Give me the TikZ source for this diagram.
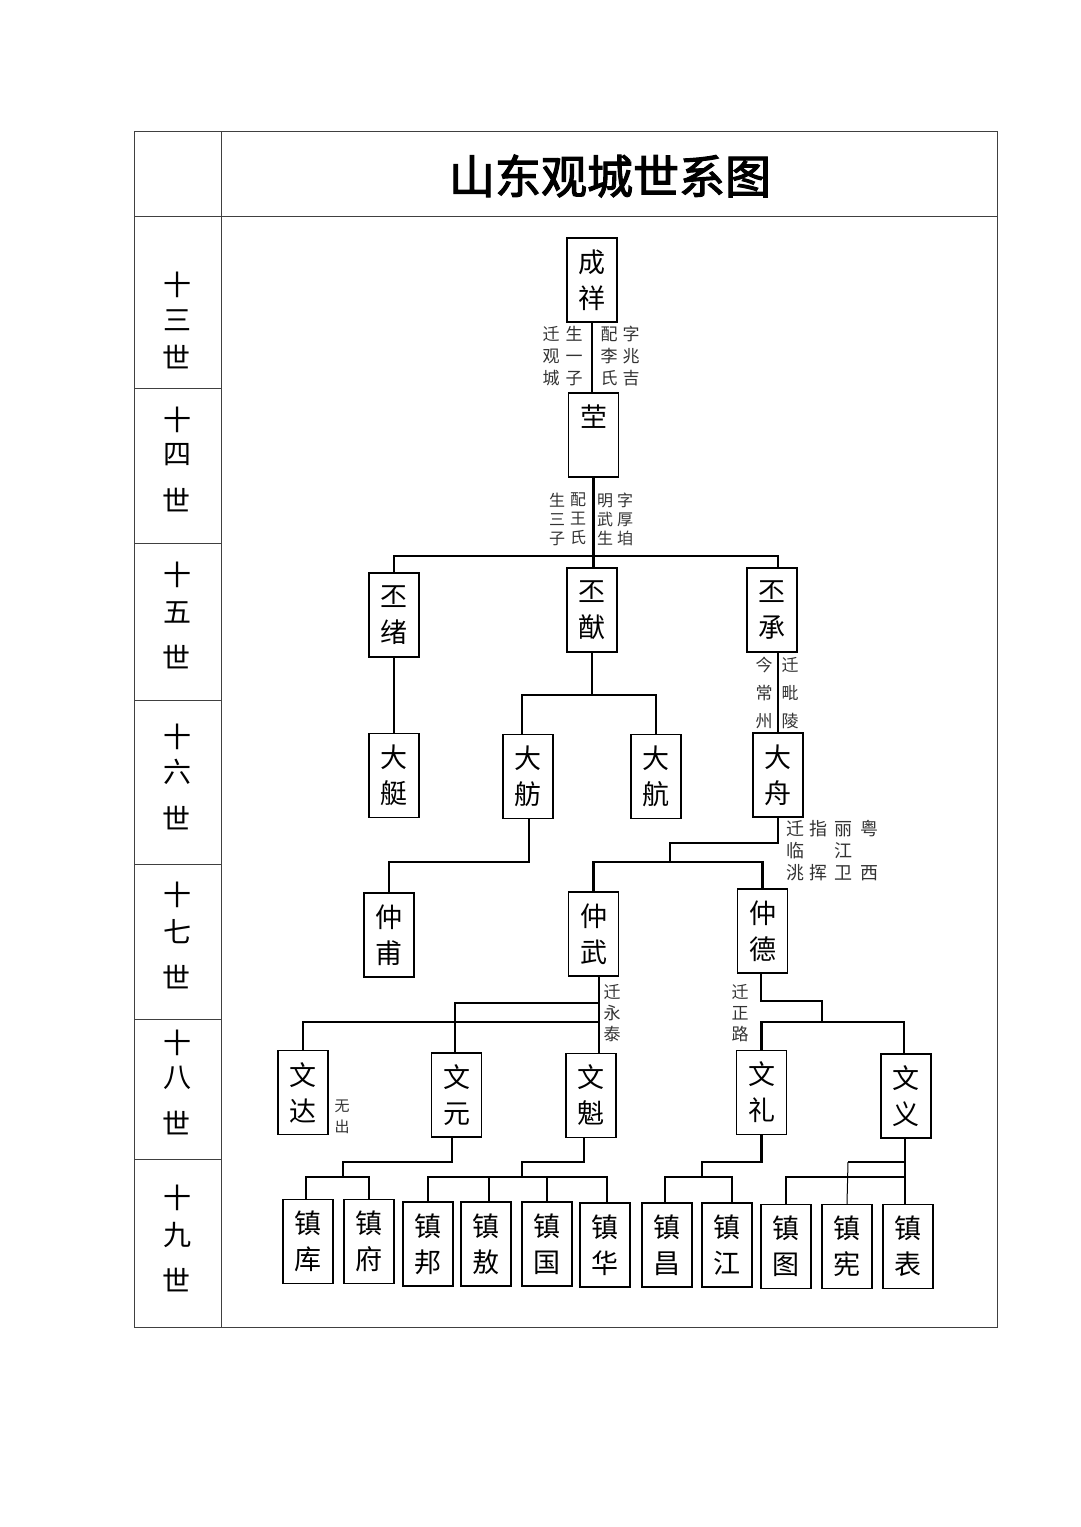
\documentclass[tikz,border=0pt]{standalone}
\usepackage{fontspec}
\newfontfamily\cjk{Noto Sans CJK SC}
\newfontfamily\cjktitle[FakeBold=2.5]{Noto Sans CJK SC}
\tikzset{
  person/.style={draw, line width=1.4pt, minimum width=50pt, minimum height=84pt, inner sep=0pt, align=center, font=\cjk\fontsize{27}{36}\selectfont},
  conn/.style={line width=2.9pt},
  thinconn/.style={line width=1pt},
  note/.style={align=center, inner sep=0pt, text=black!80, font=\cjk\fontsize{17}{22}\selectfont},
  gen/.style={inner sep=0pt, font=\cjk\fontsize{28}{30}\selectfont},
  tbl/.style={line width=1pt, draw=black!75}
}
\begin{document}
\begin{tikzpicture}[x=1pt,y=-1pt]
\fill[white] (0,0) rectangle (1080,1527);
\useasboundingbox (0,0) rectangle (1080,1527);
% table
\draw[tbl] (134,131) rectangle (997,1327);
\draw[tbl] (221,131) -- (221,1327);
\draw[tbl] (134,216) -- (997,216);
\foreach \yy in {388,543,700,864,1019,1159} {\draw[tbl] (134,\yy) -- (221,\yy);}
\node (title) at (610,176) {\cjktitle\fontsize{46}{50}\selectfont 山东观城世系图};
% generation labels
\foreach \n/\a/\b/\c/\t in {13/285/320/357/三,14/420/455/500/四,15/575/612/657/五,16/737/772/818/六,17/895/932/977/七,18/1043/1078/1123/八,19/1198/1235/1280/九}{
  \node[gen] (g\n a) at (177,\a) {十};
  \node[gen] (g\n b) at (177,\b) {\t};
  \node[gen] (g\n c) at (176,\c) {世};
}
% persons
\node[person] (chengxiang) at (592,280) {成\\祥};
\node[person] (ying) at (593.5,435) {茔\\\phantom{茔}};
\node[person] (pixu) at (394,615) {丕\\绪};
\node[person] (piyou) at (592,610) {丕\\猷};
\node[person] (picheng) at (772,610) {丕\\承};
\node[person] (dating) at (394,775.5) {大\\艇};
\node[person] (dafang) at (528,776.5) {大\\舫};
\node[person] (dahang) at (656,776.5) {大\\航};
\node[person] (dazhou) at (778,775) {大\\舟};
\node[person] (zhongfu) at (389,935) {仲\\甫};
\node[person] (zhongwu) at (593.5,934) {仲\\武};
\node[person] (zhongde) at (762.5,931) {仲\\德};
\node[person] (wenda) at (303,1092.5) {文\\达};
\node[person] (wenyuan) at (456.5,1095) {文\\元};
\node[person] (wenkui) at (591,1095.5) {文\\魁};
\node[person] (wenli) at (761.5,1092.5) {文\\礼};
\node[person] (wenyi) at (906,1096) {文\\义};
\node[person] (zhenku) at (308,1241.5) {镇\\库};
\node[person] (zhenfu) at (369,1241.5) {镇\\府};
\node[person] (zhenbang) at (428,1244) {镇\\邦};
\node[person] (zhenao) at (486,1244) {镇\\敖};
\node[person] (zhenguo) at (547,1244) {镇\\国};
\node[person] (zhenhua) at (605,1245) {镇\\华};
\node[person] (zhenchang) at (667,1245) {镇\\昌};
\node[person] (zhenjiang) at (727,1245) {镇\\江};
\node[person] (zhentu) at (786,1246.5) {镇\\图};
\node[person] (zhenxian) at (847,1246.5) {镇\\宪};
\node[person] (zhenbiao) at (908,1246.5) {镇\\表};
% notes
\node[note] (n1) at (631,356) {字\\兆\\吉};
\node[note] (n2) at (609,356) {配\\李\\氏};
\node[note] (n3) at (574,356) {生\\一\\子};
\node[note] (n4) at (551,356) {迁\\观\\城};
\node[note, font=\cjk\fontsize{16}{19}\selectfont] (n5) at (625,519) {字\\厚\\垍};
\node[note, font=\cjk\fontsize{16}{19}\selectfont] (n6) at (605,519) {明\\武\\生};
\node[note, font=\cjk\fontsize{16}{19}\selectfont] (n7) at (578,519) {配\\王\\氏};
\node[note, font=\cjk\fontsize{16}{19}\selectfont] (n8) at (557,519) {生\\三\\子};
\node[note, font=\cjk\fontsize{17}{28}\selectfont] (n9) at (790,693) {迁\\毗\\陵};
\node[note, font=\cjk\fontsize{17}{28}\selectfont] (n10) at (764,693) {今\\常\\州};
\node[note, font=\cjk\fontsize{18}{22}\selectfont] (n11) at (869,851) {粤\\\phantom{粤}\\西};
\node[note, font=\cjk\fontsize{18}{22}\selectfont] (n12) at (843,851) {丽\\江\\卫};
\node[note, font=\cjk\fontsize{18}{22}\selectfont] (n13) at (818,851) {指\\\phantom{指}\\挥};
\node[note, font=\cjk\fontsize{18}{22}\selectfont] (n14) at (795,851) {迁\\临\\洮};
\node[note, font=\cjk\fontsize{17}{21}\selectfont] (n15) at (612,1013) {迁\\永\\泰};
\node[note, font=\cjk\fontsize{17}{21}\selectfont] (n16) at (740,1013) {迁\\正\\路};
\node[note, font=\cjk\fontsize{15}{21}\selectfont] (n17) at (342,1117) {无\\出};
% bar coordinates
\coordinate (b1) at (0,556);
\coordinate (b2) at (0,695);
\coordinate (b3) at (0,862);
\coordinate (b4) at (670,843);
\coordinate (b5) at (0,1003);
\coordinate (b6) at (0,1022);
\coordinate (b7) at (822,1001);
\coordinate (b9) at (0,1177);
\coordinate (c1) at (343,1162);
\coordinate (c2) at (522,1162);
\coordinate (c3) at (702,1162);
\coordinate (c4) at (848,1162);
% connectors
\draw[line width=2pt] (chengxiang.south) -- (chengxiang.south |- ying.north);
\draw[line width=2.5pt] (ying.south) -- (ying.south |- piyou.north);
\draw[conn] (pixu.north) |- (dazhou.north |- b1) -- (dazhou.north |- picheng.north);
\draw[conn] (pixu) -- (dating);
\draw[conn] (piyou.south) -- (piyou.south |- b2);
\draw[conn] ([xshift=-6pt]dafang.north) |- (dahang.north |- b2) -- (dahang.north);
\draw[conn] (picheng.south -| dazhou.north) -- (dazhou.north);
\draw[conn] ([xshift=1pt]dafang.south) |- (zhongfu.north |- b3) -- (zhongfu.north);
\draw[conn] (dazhou.south) |- (b4) -- (b4 |- b3);
\draw[conn] (zhongwu.north) |- (zhongde.north |- b3) -- (zhongde.north);
\draw[conn] ([xshift=5.5pt]zhongwu.south) -- ([xshift=5.5pt]zhongwu.south |- wenkui.north);
\draw[conn] ([xshift=5.5pt]zhongwu.south |- b5) -| ([xshift=-1.5pt]wenyuan.north);
\draw[conn] (wenda.north) |- ([xshift=5.5pt]zhongwu.south |- b6);
\draw[conn] ([xshift=-1.5pt]zhongde.south) |- (b7) -- (b7 |- b6);
\draw[conn] (wenli.north) |- ([xshift=-2pt]wenyi.north |- b6) -- ([xshift=-2pt]wenyi.north);
\draw[conn] ([xshift=-4.5pt]wenyuan.south) |- (c1) -- (c1 |- b9);
\draw[conn] ([xshift=-2pt]zhenku.north) |- (zhenfu.north |- b9) -- (zhenfu.north);
\draw[conn] ([xshift=-7pt]wenkui.south) |- (c2) -- (c2 |- b9);
\draw[conn] (zhenbang.north) |- ([xshift=2pt]zhenhua.north |- b9) -- ([xshift=2pt]zhenhua.north);
\draw[conn] ([xshift=3pt]zhenao.north) -- ([xshift=3pt]zhenao.north |- b9);
\draw[conn] (zhenguo.north) -- (zhenguo.north |- b9);
\draw[conn] (wenli.south) |- (c3) -- (c3 |- b9);
\draw[conn] ([xshift=-2pt]zhenchang.north) |- ([xshift=5pt]zhenjiang.north |- b9) -- ([xshift=5pt]zhenjiang.north);
\draw[conn] ([xshift=-1pt]wenyi.south) -- ([xshift=-1pt]wenyi.south |- zhenbiao.north);
\draw[conn] (zhentu.north) |- ([xshift=-1pt]wenyi.south |- b9);
\draw[conn] ([xshift=-1pt]wenyi.south |- c4) -- (c4);
\draw[thinconn] (c4) -- (zhenxian.north);
\end{tikzpicture}
\end{document}
